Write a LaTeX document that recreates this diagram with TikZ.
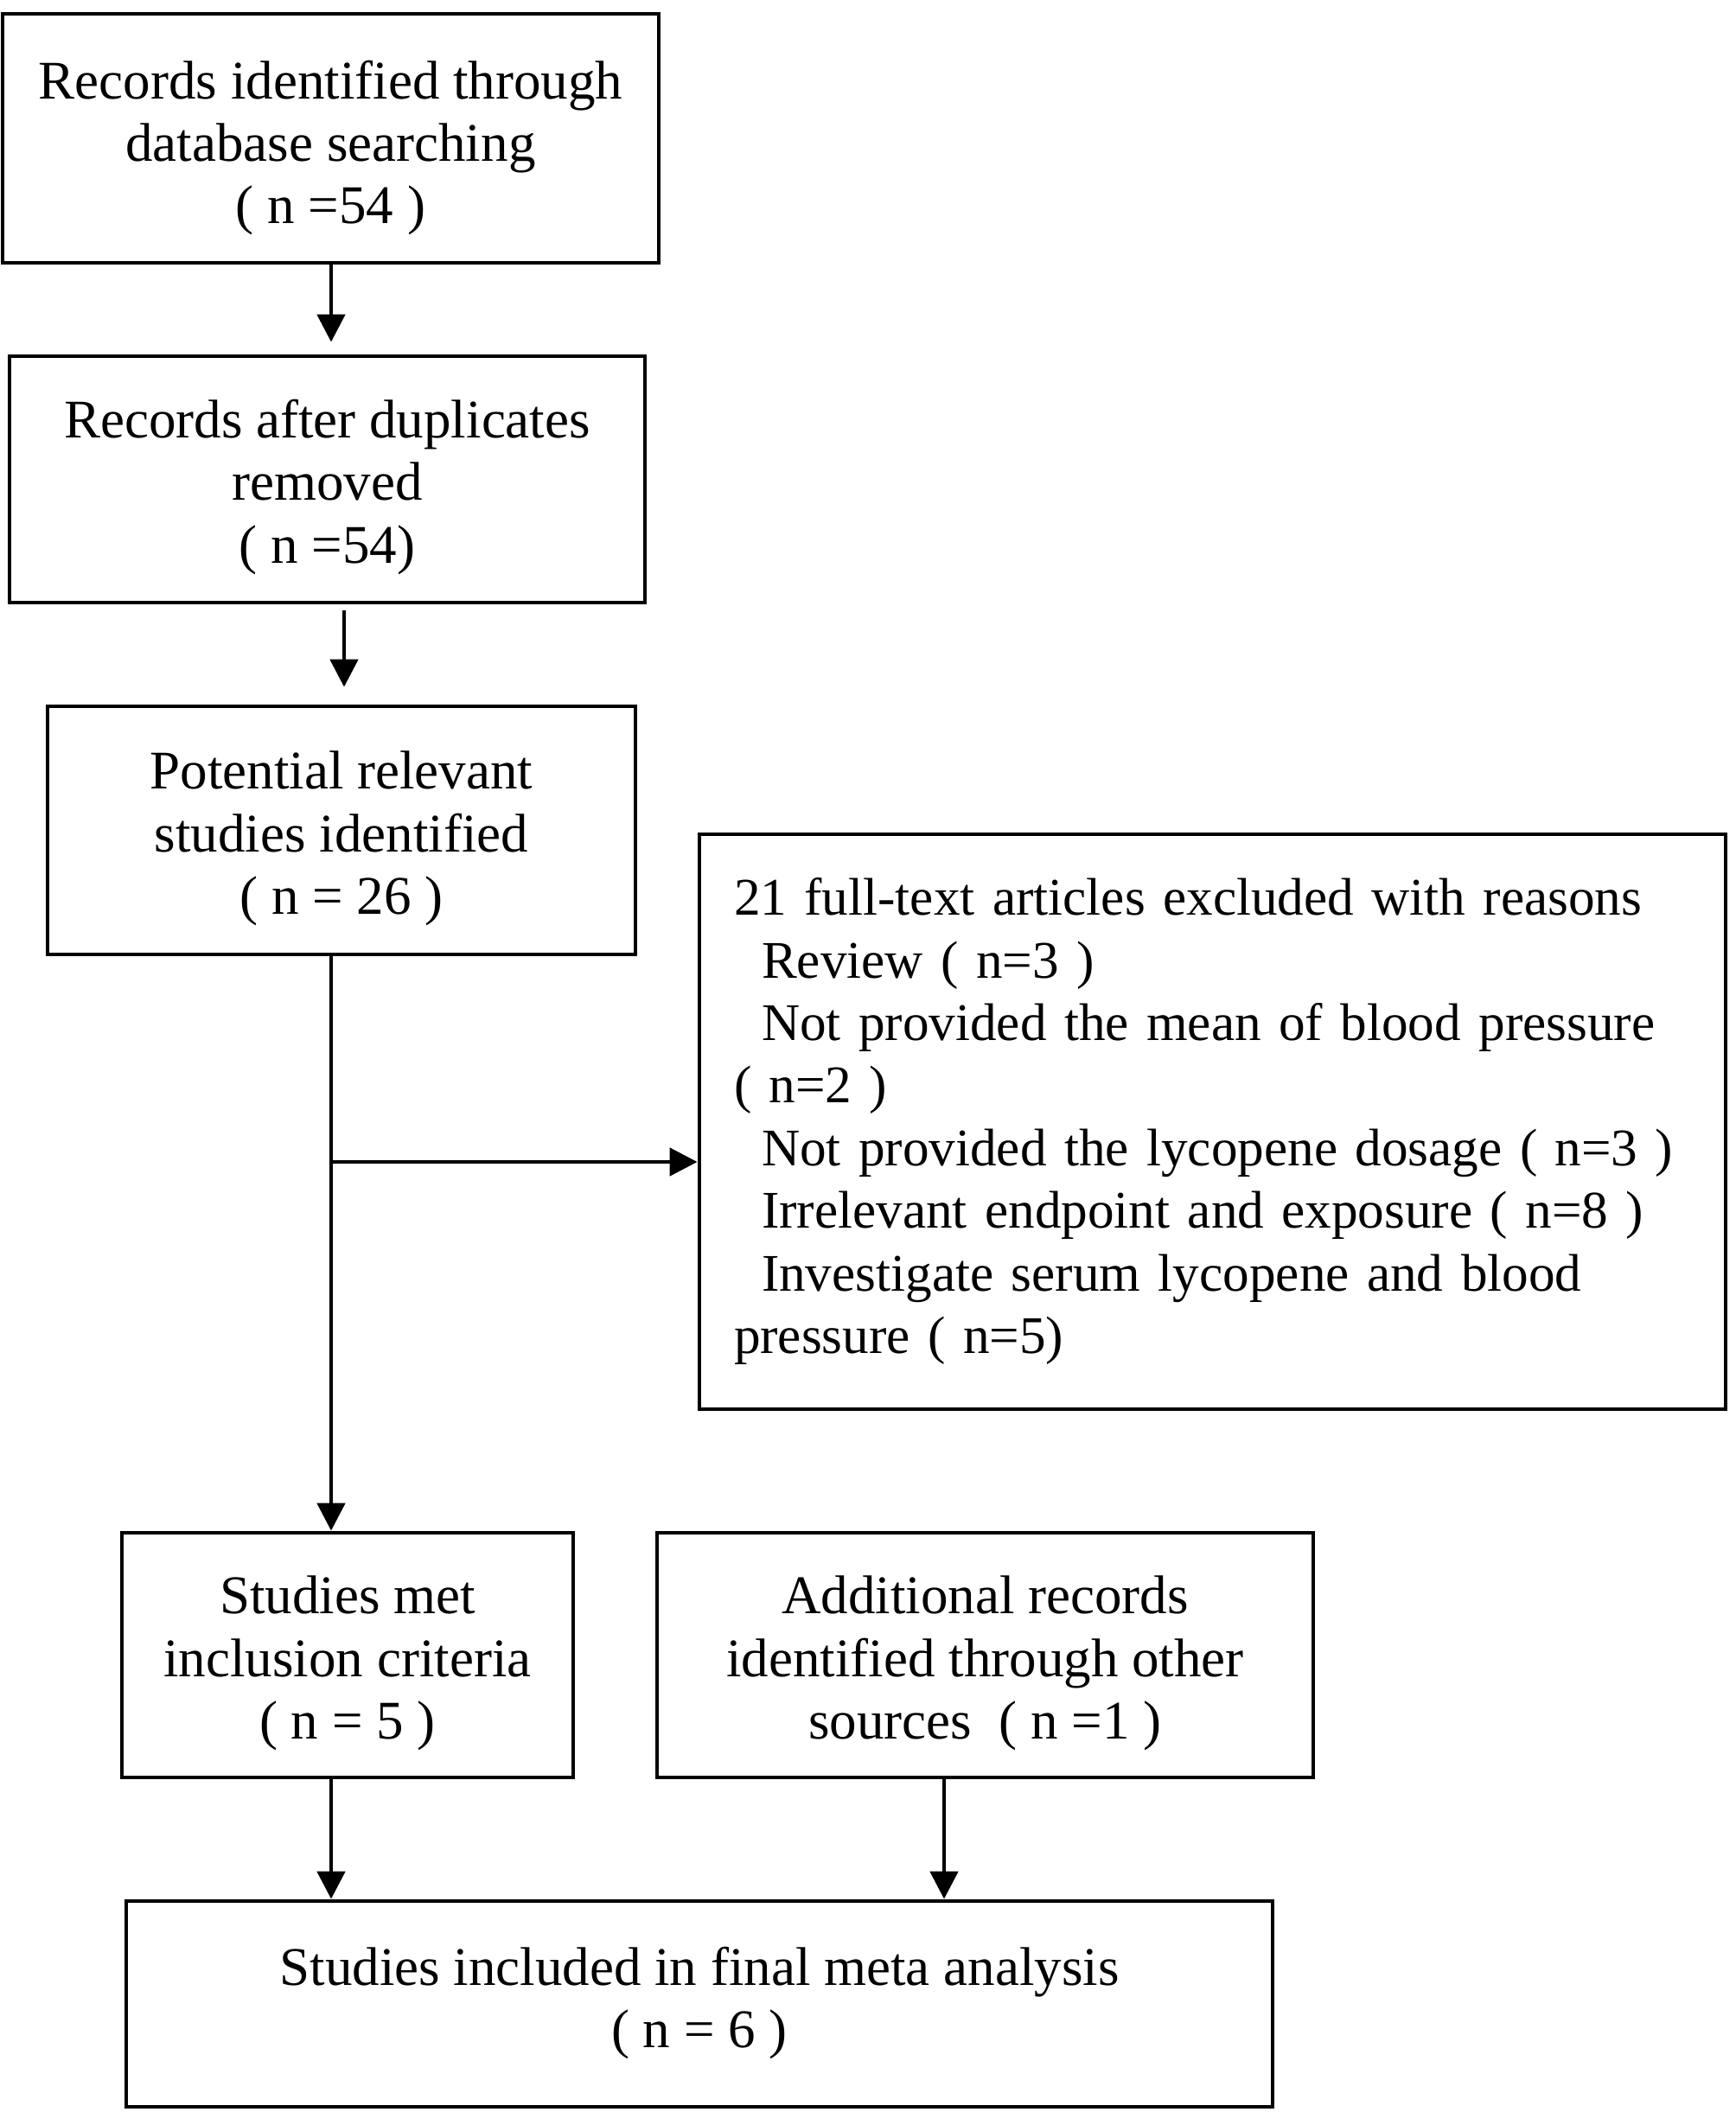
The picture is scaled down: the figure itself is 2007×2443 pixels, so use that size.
\documentclass[tikz,border=0pt]{standalone}
\usepackage{fontspec}
\setmainfont{Liberation Serif}
\usetikzlibrary{arrows.meta}
\newcommand\bxc[2]{\raisebox{#2}[\height][\depth]{\begin{tabular}{@{}c@{}}#1\end{tabular}}}
\newcommand\bxl[2]{\raisebox{#2}[\height][\depth]{\begin{tabular}{@{}l@{}}#1\end{tabular}}}
\begin{document}
\begin{tikzpicture}[x=0.25pt,y=-0.25pt,
  box/.style={draw,line width=1.2pt,inner sep=0pt,align=center,
    font=\fontsize{15.75}{18.1}\selectfont},
  arr/.style={line width=1.2pt,-{Triangle[length=8pt,width=8pt]}}]
\useasboundingbox (0,0) rectangle (2007,2443);
\node[box,minimum width=189.75pt,minimum height=72pt] (b1) at (382.5,160)
  {\bxc{Records identified through\\database searching\\( n =54 )}{-3pt}};
\node[box,minimum width=183.75pt,minimum height=71.25pt] (b2) at (378.5,554.5)
  {\bxc{Records after duplicates\\removed\\( n =54)}{-2.5pt}};
\node[box,minimum width=170pt,minimum height=71.75pt] (b3) at (395,960.5)
  {\bxc{Potential relevant\\studies identified\\( n = 26 )}{-2.5pt}};
\node[box,minimum width=296.75pt,minimum height=166.25pt,align=left,
  text width=276.75pt,inner xsep=10pt,
  font=\fontsize{15.3}{18.1}\selectfont] (b5) at (1402.5,1297.5)
  {\bxl{21 full-text articles excluded with reasons\\
   \hspace*{8pt}Review ( n=3 )\\
   \hspace*{8pt}Not provided the mean of blood pressure\\
   ( n=2 )\\
   \hspace*{8pt}Not provided the lycopene dosage ( n=3 )\\
   \hspace*{8pt}Irrelevant endpoint and exposure ( n=8 )\\
   \hspace*{8pt}Investigate serum lycopene and blood\\
   pressure ( n=5)}{0pt}};
\node[box,minimum width=130.5pt,minimum height=70.75pt] (b4) at (402,1914.5)
  {\bxc{Studies met\\inclusion criteria\\( n = 5 )}{-2.5pt}};
\node[box,minimum width=189.75pt,minimum height=70.75pt] (b6) at (1139.5,1914.5)
  {\bxc{Additional records\\identified through other\\sources\ \ ( n =1 )}{-2.5pt}};
\node[box,minimum width=331.5pt,minimum height=59.5pt] (b7) at (809,2318)
  {\bxc{Studies included in final meta analysis\\( n = 6 )}{0pt}};
\coordinate (xa) at (383,0);
\coordinate (xb) at (398,0);
\coordinate (xc) at (1092,0);
\coordinate (j) at (383,1344);
\draw[arr] (b1.south -| xa) -- ([yshift=3.5pt]b2.north -| xa);
\draw[arr] ([yshift=-1.75pt]b2.south -| xb) -- ([yshift=5pt]b3.north -| xb);
\draw[arr] (b3.south -| xa) -- (b4.north -| xa);
\draw[arr] (j) -- (b5.west |- j);
\draw[arr] (b4.south -| xa) -- (b7.north -| xa);
\draw[arr] (b6.south -| xc) -- (b7.north -| xc);
\end{tikzpicture}
\end{document}
